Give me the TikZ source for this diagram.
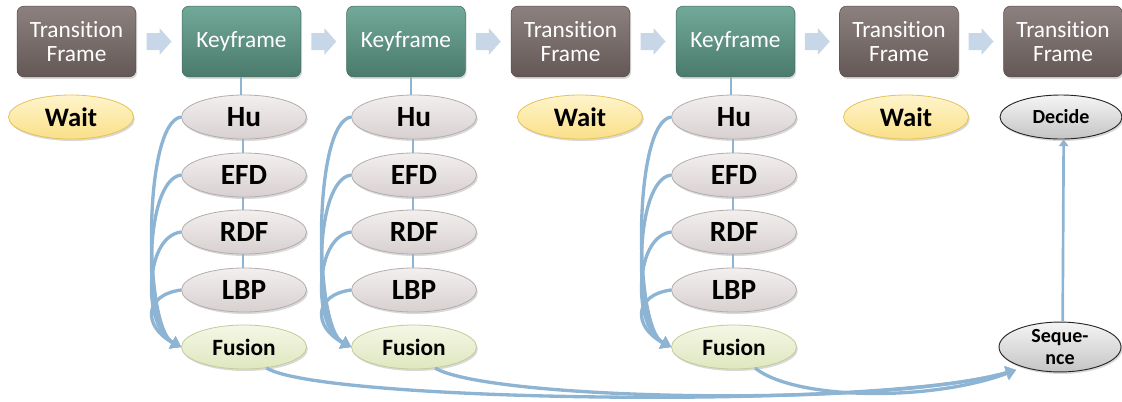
\documentclass[tikz,border=0pt]{standalone}
\usepackage{fontspec}
\setmainfont{Carlito}[Ligatures=NoCommon]
\usetikzlibrary{shapes.geometric,arrows.meta,shadows,calc}
\definecolor{trtop}{HTML}{8C817F}
\definecolor{trbot}{HTML}{645856}
\definecolor{kftop}{HTML}{72A999}
\definecolor{kfbot}{HTML}{4A7A6C}
\definecolor{connblue}{HTML}{8EB4D4}
\definecolor{blockblue}{HTML}{C7D7E7}
\definecolor{waittop}{HTML}{FFF5CC}
\definecolor{waitbot}{HTML}{FADF88}
\definecolor{waitdraw}{HTML}{E3C35A}
\definecolor{feattop}{HTML}{F3EFEF}
\definecolor{featbot}{HTML}{D8D0D0}
\definecolor{featdraw}{HTML}{B5ADAD}
\definecolor{fustop}{HTML}{F4F7E6}
\definecolor{fusbot}{HTML}{DFE7BF}
\definecolor{fusdraw}{HTML}{C3CB98}
\definecolor{graytop}{HTML}{F5F5F5}
\definecolor{graybot}{HTML}{C4C4C4}
\tikzset{
  myshadow/.style={drop shadow={shadow xshift=1pt,shadow yshift=-1.5pt,opacity=0.25,fill=black!60}},
  framebox/.style={rectangle,rounded corners=5pt,minimum width=89pt,minimum height=53pt,
    inner sep=0pt,align=center,text=white,font=\fontsize{17.5pt}{18pt}\selectfont,myshadow},
  trbox/.style={framebox,top color=trtop,bottom color=trbot,draw=trbot!90!black,line width=0.4pt},
  kfbox/.style={framebox,top color=kftop,bottom color=kfbot,draw=kfbot!90!black,line width=0.4pt},
  oval/.style={ellipse,minimum width=93.75pt,minimum height=33pt,inner sep=0pt,line width=0.6pt,
    align=center,myshadow},
  waitnode/.style={oval,top color=waittop,bottom color=waitbot,draw=waitdraw,
    font=\bfseries\fontsize{20pt}{22pt}\selectfont},
  featnode/.style={oval,top color=feattop,bottom color=featbot,draw=featdraw,
    font=\bfseries\fontsize{22pt}{24pt}\selectfont},
  fusnode/.style={oval,top color=fustop,bottom color=fusbot,draw=fusdraw,
    font=\bfseries\fontsize{17.5pt}{18pt}\selectfont},
  graynode/.style={oval,minimum width=91.5pt,top color=graytop,bottom color=graybot,draw=black!85,
    line width=0.7pt,font=\bfseries\fontsize{15pt}{16.5pt}\selectfont},
  thinlink/.style={draw=connblue,line width=1.6pt},
  fuse/.style={draw=connblue,line width=2.5pt,-{Triangle[width=10pt,length=7.5pt]}},
  blockfill/.style={fill=blockblue},
}
\newcommand{\blockarr}[1]{%
  \fill[blockfill] ($(#1)+(-12.5,-8.5)$) -- ++(13,0) -- ++(0,-5) -- ++(12,13.5)
    -- ++(-12,13.5) -- ++(0,-5) -- ++(-13,0) -- cycle;}
\begin{document}
\begin{tikzpicture}[x=0.75pt,y=-0.75pt]
\useasboundingbox (0,0) rectangle (1122,401);

% top row of frames
\node[trbox] (t1) at (76.5,41.5) {Transition\\Frame};
\node[kfbox] (k1) at (241.5,41.5) {Keyframe};
\node[kfbox] (k2) at (406,41.5) {Keyframe};
\node[trbox] (t2) at (570.5,41.5) {Transition\\Frame};
\node[kfbox] (k3) at (735.5,41.5) {Keyframe};
\node[trbox] (t3) at (899,41.5) {Transition\\Frame};
\node[trbox] (t4) at (1063,41.5) {Transition\\Frame};

% block arrows between frames
\path (t1.east) -- (k1.west) coordinate[midway] (a1);
\path (k1.east) -- (k2.west) coordinate[midway] (a2);
\path (k2.east) -- (t2.west) coordinate[midway] (a3);
\path (t2.east) -- (k3.west) coordinate[midway] (a4);
\path (k3.east) -- (t3.west) coordinate[midway] (a5);
\path (t3.east) -- (t4.west) coordinate[midway] (a6);
\blockarr{a1}\blockarr{a2}\blockarr{a3}\blockarr{a4}\blockarr{a5}\blockarr{a6}

% wait nodes
\node[waitnode] (w1) at (71,117) {Wait};
\node[waitnode] (w2) at (580,117) {Wait};
\node[waitnode] (w3) at (906,117) {Wait};

% feature columns
\foreach \c/\x in {1/244,2/414,3/734}{
  \node[featnode] (hu\c) at (\x,117) {Hu};
  \node[featnode] (efd\c) at (\x,175) {EFD};
  \node[featnode] (rdf\c) at (\x,232) {RDF};
  \node[featnode] (lbp\c) at (\x,290) {LBP};
  \node[fusnode] (fus\c) at (\x,347) {Fusion};
}
\draw[thinlink] ([xshift=-2pt]hu1.north) -- ([xshift=-2pt]hu1.north |- k1.south);
\draw[thinlink] ([xshift=-2pt]hu2.north) -- ([xshift=-2pt]hu2.north |- k2.south);
\draw[thinlink] ([xshift=-2pt]hu3.north) -- ([xshift=-2pt]hu3.north |- k3.south);
\foreach \c in {1,2,3}{
  \draw[thinlink] ([xshift=-1pt]hu\c.south) -- ([xshift=-1pt]efd\c.north);
  \draw[thinlink] ([xshift=-1pt]efd\c.south) -- ([xshift=-1pt]rdf\c.north);
  \draw[thinlink] ([xshift=-1pt]rdf\c.south) -- ([xshift=-1pt]lbp\c.north);
  \foreach \f in {hu,efd,rdf,lbp}{
    \draw[fuse] (\f\c.west) .. controls +(-38,5) and +(-38,-20) .. (fus\c.west);
  }
}

% decide / sequence
\node[graynode] (dec) at (1061,117) {Decide};
\node[graynode,minimum height=37pt] (seq) at (1060,347) {Seque-\\nce};
\coordinate (seqin) at (1016,370);
\draw[draw=connblue,line width=2pt,-{Triangle[width=7pt,length=5pt]}] ([xshift=2pt]seq.north) -- ([xshift=2pt]dec.south);

\draw[fuse] (fus1.-43) .. controls (320,402) and (880,410) .. (seqin);
\draw[fuse] (fus2.-45) .. controls (490,400) and (880,408) .. (seqin);
\draw[fuse] (fus3.-45) .. controls (795,400) and (930,402) .. (seqin);
\end{tikzpicture}
\end{document}
